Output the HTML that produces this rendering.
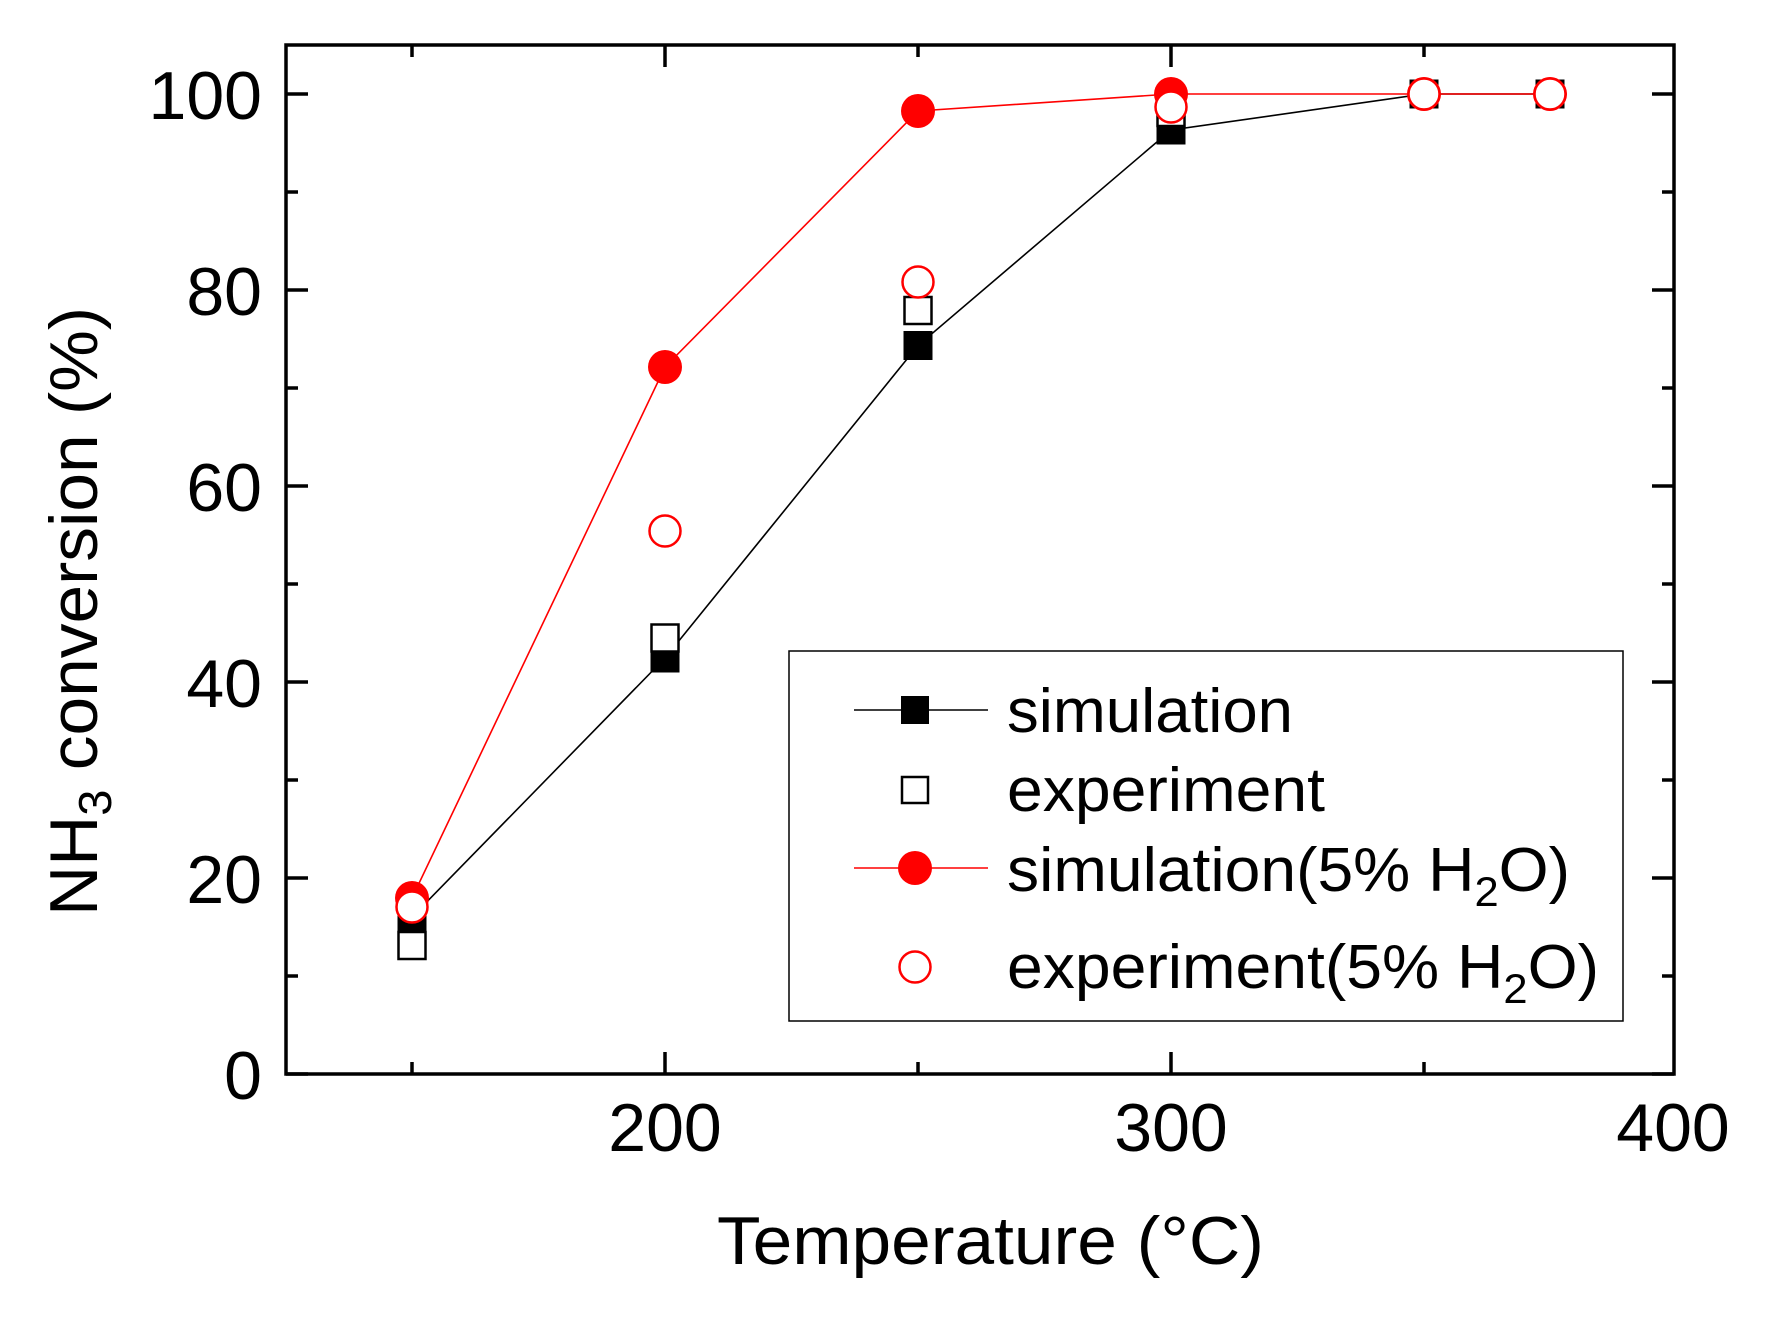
<!DOCTYPE html>
<html><head><meta charset="utf-8"><style>html,body{margin:0;padding:0;background:#fff}svg{display:block}</style></head>
<body>
<svg width="1772" height="1320" viewBox="0 0 1772 1320" xmlns="http://www.w3.org/2000/svg" font-family="'Liberation Sans', Arial, sans-serif">
<rect width="1772" height="1320" fill="#fff"/>
<polyline points="412,917 665,658 918,345.5 1171,130 1424,94 1550,94" fill="none" stroke="#000" stroke-width="1.6"/>
<g fill="#000"><rect x="397.5" y="902.5" width="29" height="29"/><rect x="650.5" y="643.5" width="29" height="29"/><rect x="903.5" y="331" width="29" height="29"/><rect x="1156.5" y="115.5" width="29" height="29"/><rect x="1409.5" y="79.5" width="29" height="29"/><rect x="1535.5" y="79.5" width="29" height="29"/></g>
<g fill="#fff" stroke="#000" stroke-width="2.5"><rect x="398.5" y="932" width="27" height="27"/><rect x="651.5" y="624.5" width="27" height="27"/><rect x="904.5" y="297" width="27" height="27"/><rect x="1157.5" y="99" width="27" height="27"/></g>
<polyline points="412,898 665,367 918,111 1171,94 1424,94 1550,94" fill="none" stroke="#f00" stroke-width="1.6"/>
<g fill="#f00"><circle cx="412" cy="898" r="17"/><circle cx="665" cy="367" r="17"/><circle cx="918" cy="111" r="17"/><circle cx="1171" cy="94" r="17"/><circle cx="1424" cy="94" r="17"/><circle cx="1550" cy="94" r="17"/></g>
<g fill="#fff" stroke="#f00" stroke-width="2.5"><circle cx="412" cy="907" r="15.5"/><circle cx="665" cy="531" r="15.5"/><circle cx="918" cy="282" r="15.5"/><circle cx="1171" cy="107" r="15.5"/><circle cx="1424" cy="94" r="15.5"/><circle cx="1550" cy="94" r="15.5"/></g>
<rect x="286" y="45" width="1388" height="1029" fill="none" stroke="#000" stroke-width="3.5"/>
<g stroke="#000" stroke-width="3.5">
<path d="M286,1074h22M286,878h22M286,682h22M286,486h22M286,290h22M286,94h22"/>
<path d="M286,976h12M286,780h12M286,584h12M286,388h12M286,192h12"/>
<path d="M1674,1074h-22M1674,878h-22M1674,682h-22M1674,486h-22M1674,290h-22M1674,94h-22"/>
<path d="M1674,976h-12M1674,780h-12M1674,584h-12M1674,388h-12M1674,192h-12"/>
<path d="M665,1074v-22M1171,1074v-22M412,1074v-12M918,1074v-12M1424,1074v-12"/>
<path d="M665,45v22M1171,45v22M412,45v12M918,45v12M1424,45v12"/>
</g>
<g font-size="68" fill="#000" text-anchor="end">
<text x="262" y="1099">0</text><text x="262" y="903">20</text><text x="262" y="707">40</text><text x="262" y="511">60</text><text x="262" y="315">80</text><text x="262" y="119">100</text>
</g>
<g font-size="68" fill="#000" text-anchor="middle">
<text x="665" y="1151">200</text><text x="1171" y="1151">300</text><text x="1673" y="1151">400</text>
</g>
<text x="717" y="1264" font-size="68" textLength="547" lengthAdjust="spacingAndGlyphs">Temperature (°C)</text>
<text transform="translate(97,916) rotate(-90)" font-size="68" textLength="609" lengthAdjust="spacingAndGlyphs">NH<tspan font-size="46" dy="14">3</tspan><tspan dy="-14"> conversion (%)</tspan></text>
<rect x="789" y="651" width="834" height="370" fill="#fff" stroke="#000" stroke-width="1.5"/>
<line x1="854" y1="710" x2="988" y2="710" stroke="#000" stroke-width="1.6"/>
<rect x="901" y="696" width="28" height="28" fill="#000"/>
<rect x="902" y="777" width="26" height="26" fill="#fff" stroke="#000" stroke-width="2.5"/>
<line x1="854" y1="868" x2="988" y2="868" stroke="#f00" stroke-width="1.6"/>
<circle cx="915" cy="868" r="17" fill="#f00"/>
<circle cx="915" cy="967" r="15.5" fill="#fff" stroke="#f00" stroke-width="2.5"/>
<g font-size="62" fill="#000">
<text x="1007" y="732" textLength="286" lengthAdjust="spacingAndGlyphs">simulation</text>
<text x="1007" y="811" textLength="318" lengthAdjust="spacingAndGlyphs">experiment</text>
<text x="1007" y="891" textLength="563" lengthAdjust="spacingAndGlyphs">simulation(5% H<tspan font-size="42" dy="15">2</tspan><tspan dy="-15">O)</tspan></text>
<text x="1007" y="988" textLength="592" lengthAdjust="spacingAndGlyphs">experiment(5% H<tspan font-size="42" dy="15">2</tspan><tspan dy="-15">O)</tspan></text>
</g>
</svg>
</body></html>
